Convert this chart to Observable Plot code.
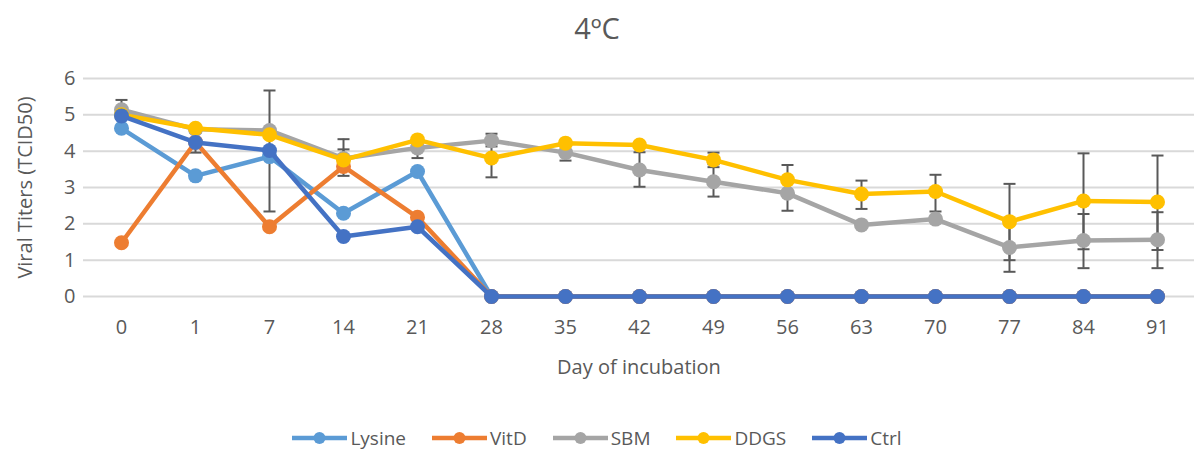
<!DOCTYPE html>
<html><head><meta charset="utf-8">
<script src="https://cdn.jsdelivr.net/npm/d3@7"></script>
<script src="https://cdn.jsdelivr.net/npm/@observablehq/plot@0.6"></script>
<style>
body{margin:0;background:#fff;font-family:"Open Sans",sans-serif;color:#595959;width:1194px;height:451px;overflow:hidden;}
#title{height:55px;display:flex;align-items:center;justify-content:center;font-size:29px;}
#chart svg{display:block;}
#legend{height:61px;box-sizing:border-box;padding-top:35px;display:flex;justify-content:center;align-items:center;font-size:19px;padding-left:0px;}
.item{display:flex;align-items:center;margin:0 13px;}
.item svg{margin-right:3px;}
</style></head>
<body>
<div id="title">4ºC</div>
<div id="chart"></div>
<div id="legend"></div>
<script>
const days = ["0","1","7","14","21","28","35","42","49","56","63","70","77","84","91"];
const seriesNames = ["Lysine","VitD","SBM","DDGS","Ctrl"];
const seriesColors = ["#5B9BD5","#ED7D31","#A5A5A5","#FFC000","#4472C4"];
const lysine = [4.63,3.32,3.85,2.29,3.44,0,0,0,0,0,0,0,0,0,0];
const vitD   = [1.48,4.25,1.92,3.58,2.18,0,0,0,0,0,0,0,0,0,0];
const sbm    = [5.14,4.6,4.57,3.8,4.09,4.29,3.96,3.48,3.16,2.84,1.97,2.13,1.35,1.54,1.56];
const ddgs   = [5.0,4.63,4.45,3.76,4.31,3.81,4.22,4.17,3.76,3.21,2.82,2.89,2.06,2.63,2.6];
const ctrl   = [4.97,4.24,4.02,1.65,1.92,0,0,0,0,0,0,0,0,0,0];
const yTicks = [0,1,2,3,4,5,6];
const errDay  = ["0","1","7","14","14","21","28","28","35","42","49","49","56","63","70","77","77","84","84","91","91"];
const errLow  = [4.89,3.96,2.34,3.32,3.46,3.81,4.13,3.28,3.74,3.02,2.75,3.64,2.36,2.41,2.34,1.0,0.68,1.3,0.78,1.28,0.78];
const errHigh = [5.41,4.5,5.67,4.33,4.05,4.29,4.48,4.32,4.18,3.97,3.56,3.96,3.62,3.19,3.35,3.1,2.02,3.94,2.27,3.88,2.32];

const seriesValues = [lysine, vitD, sbm, ddgs, ctrl];
const errs = errDay.map((d,i)=>({day:d, lo:errLow[i], hi:errHigh[i]}));
const capSymbol = {draw(ctx){ctx.moveTo(-6,0);ctx.lineTo(6,0);}};
const errColor = "#595959";

const marks = [
  Plot.gridY(yTicks, {stroke:"#D9D9D9", strokeWidth:2, strokeOpacity:1}),
  Plot.axisY(yTicks, {tickSize:0, tickPadding:8, fontSize:20, label:null, fill:"#595959"}),
  Plot.axisX({tickSize:0, tickPadding:23, fontSize:20, label:null, fill:"#595959"}),
  Plot.text(["Viral Titers (TCID50)"], {frameAnchor:"left", textAnchor:"middle", dx:-58, rotate:-90, fontSize:20, fill:"#595959"}),
  Plot.text(["Day of incubation"], {frameAnchor:"bottom", textAnchor:"middle", dy:77, fontSize:20, fill:"#595959"}),
  Plot.ruleX(errs, {x:"day", y1:"lo", y2:"hi", stroke:errColor, strokeWidth:2}),
  Plot.dot(errs, {x:"day", y:"lo", symbol:capSymbol, stroke:errColor, strokeWidth:2, fill:"none"}),
  Plot.dot(errs, {x:"day", y:"hi", symbol:capSymbol, stroke:errColor, strokeWidth:2, fill:"none"})
];
seriesNames.forEach((name, si) => {
  const rows = days.map((d,i)=>({day:d, v:seriesValues[si][i]}));
  marks.push(Plot.line(rows, {x:"day", y:"v", stroke:seriesColors[si], strokeWidth:4.5, strokeLinejoin:"round"}));
  marks.push(Plot.dot(rows, {x:"day", y:"v", fill:seriesColors[si], r:7.5}));
});

const chart = Plot.plot({
  width:1194, height:335,
  marginLeft:83, marginRight:0, marginTop:23, marginBottom:94,
  style:{fontFamily:"Open Sans, sans-serif", color:"#595959", background:"#fff"},
  x:{type:"point", domain:days, padding:0.5},
  y:{domain:[0,6]},
  marks
});
document.getElementById("chart").appendChild(chart);

const legend = document.getElementById("legend");
seriesNames.forEach((name, si) => {
  const item = document.createElement("div");
  item.className = "item";
  item.innerHTML = `<svg width="55" height="16"><line x1="0" y1="8" x2="55" y2="8" stroke="${seriesColors[si]}" stroke-width="4.5"/><circle cx="27.5" cy="8" r="6" fill="${seriesColors[si]}"/></svg><span>${name}</span>`;
  legend.appendChild(item);
});
</script>
</body></html>
